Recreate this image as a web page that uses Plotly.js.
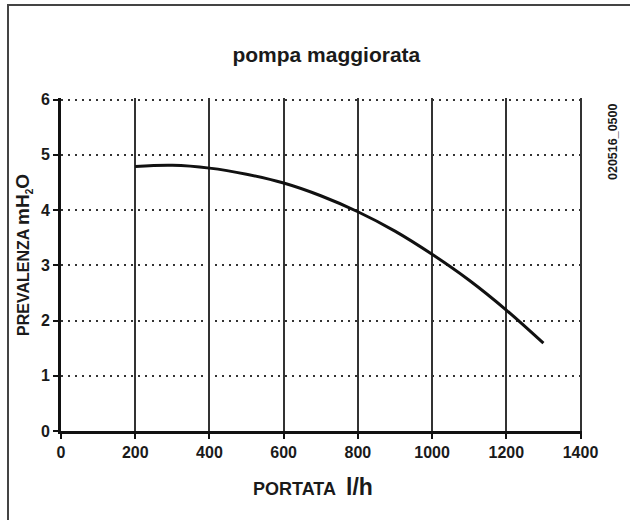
<!DOCTYPE html>
<html>
<head>
<meta charset="utf-8">
<script src="https://cdn.plot.ly/plotly-3.0.1.min.js"></script>
<style>
html,body{margin:0;padding:0;background:#fff;}
#wrap{position:relative;width:630px;height:520px;overflow:hidden;}
#chart{position:absolute;left:0;top:0;width:630px;height:520px;}
#frame{position:absolute;left:7px;top:4px;width:640px;height:540px;border-left:2px solid #444;border-top:2px solid #444;pointer-events:none;}
</style>
</head>
<body>
<div id="wrap"><div id="chart"></div><div id="frame"></div></div>
<script>
// Data
var portata = [200, 300, 400, 500, 600, 700, 800, 900, 1000, 1100, 1200, 1300];
var prevalenza = [4.79, 4.81, 4.76, 4.65, 4.49, 4.26, 3.97, 3.62, 3.20, 2.73, 2.19, 1.59];
var xTicks = [0, 200, 400, 600, 800, 1000, 1200, 1400];
var yTicks = [0, 1, 2, 3, 4, 5, 6];
var titleText = 'pompa maggiorata';
var xTitle = 'PORTATA&nbsp;&nbsp;<span style="font-size:23px">l/h</span>';
var yTitle = 'PREVALENZA <span style="font-size:19px">mH<sub><span style="font-size:10px">2</span></sub>O</span>';
var codeText = '020516_0500';

var FONT = 'Liberation Sans, Arial, Helvetica, sans-serif';

var trace = {
  x: portata,
  y: prevalenza,
  type: 'scatter',
  mode: 'lines',
  line: {color: '#111', width: 3, shape: 'spline', smoothing: 1},
  hoverinfo: 'x+y'
};

var layout = {
  width: 630,
  height: 520,
  margin: {l: 61, r: 48, t: 98, b: 89},
  paper_bgcolor: '#fff',
  plot_bgcolor: '#fff',
  showlegend: false,
  font: {family: FONT, color: '#1a1a1a', weight: 'bold'},
  title: {
    text: titleText,
    font: {family: FONT, size: 21, color: '#1a1a1a', weight: 'bold'},
    x: 0.518, xanchor: 'center',
    y: 0.895, yanchor: 'middle'
  },
  xaxis: {
    range: [0, 1404],
    tickvals: xTicks,
    ticktext: xTicks.map(String),
    ticks: 'outside', ticklen: 5, tickwidth: 2, tickcolor: '#111',
    showline: true, linewidth: 3, linecolor: '#111', mirror: false,
    showgrid: true, gridcolor: '#333', gridwidth: 2,
    zeroline: false,
    tickfont: {family: FONT, size: 16, color: '#1a1a1a', weight: 'bold'},
    fixedrange: true
  },
  yaxis: {
    range: [0, 6.03],
    tickvals: yTicks,
    ticktext: yTicks.map(String),
    ticks: 'outside', ticklen: 5, tickwidth: 2, tickcolor: '#111',
    showline: true, linewidth: 3, linecolor: '#111', mirror: false,
    showgrid: true, gridcolor: '#333', gridwidth: 2, griddash: '2px,5px',
    zeroline: false,
    tickfont: {family: FONT, size: 16, color: '#1a1a1a', weight: 'bold'},
    fixedrange: true
  },
  annotations: [
    {
      text: xTitle,
      xref: 'paper', yref: 'paper',
      x: (313 - 61) / 521, y: -(487 - 431) / 333,
      xanchor: 'center', yanchor: 'middle',
      showarrow: false,
      font: {family: FONT, size: 18, color: '#1a1a1a', weight: 'bold'}
    },
    {
      text: yTitle,
      xref: 'paper', yref: 'paper',
      x: -(61 - 23) / 521, y: (431 - 255) / 333,
      xanchor: 'center', yanchor: 'middle',
      textangle: -90,
      showarrow: false,
      font: {family: FONT, size: 16, color: '#1a1a1a', weight: 'bold'}
    },
    {
      text: codeText,
      xref: 'paper', yref: 'paper',
      x: (613 - 61) / 521, y: (431 - 142) / 333,
      xanchor: 'center', yanchor: 'middle',
      textangle: -90,
      showarrow: false,
      font: {family: FONT, size: 12.5, color: '#1a1a1a', weight: 'bold'}
    }
  ]
};

Plotly.newPlot('chart', [trace], layout, {displayModeBar: false, staticPlot: true});
</script>
</body>
</html>
